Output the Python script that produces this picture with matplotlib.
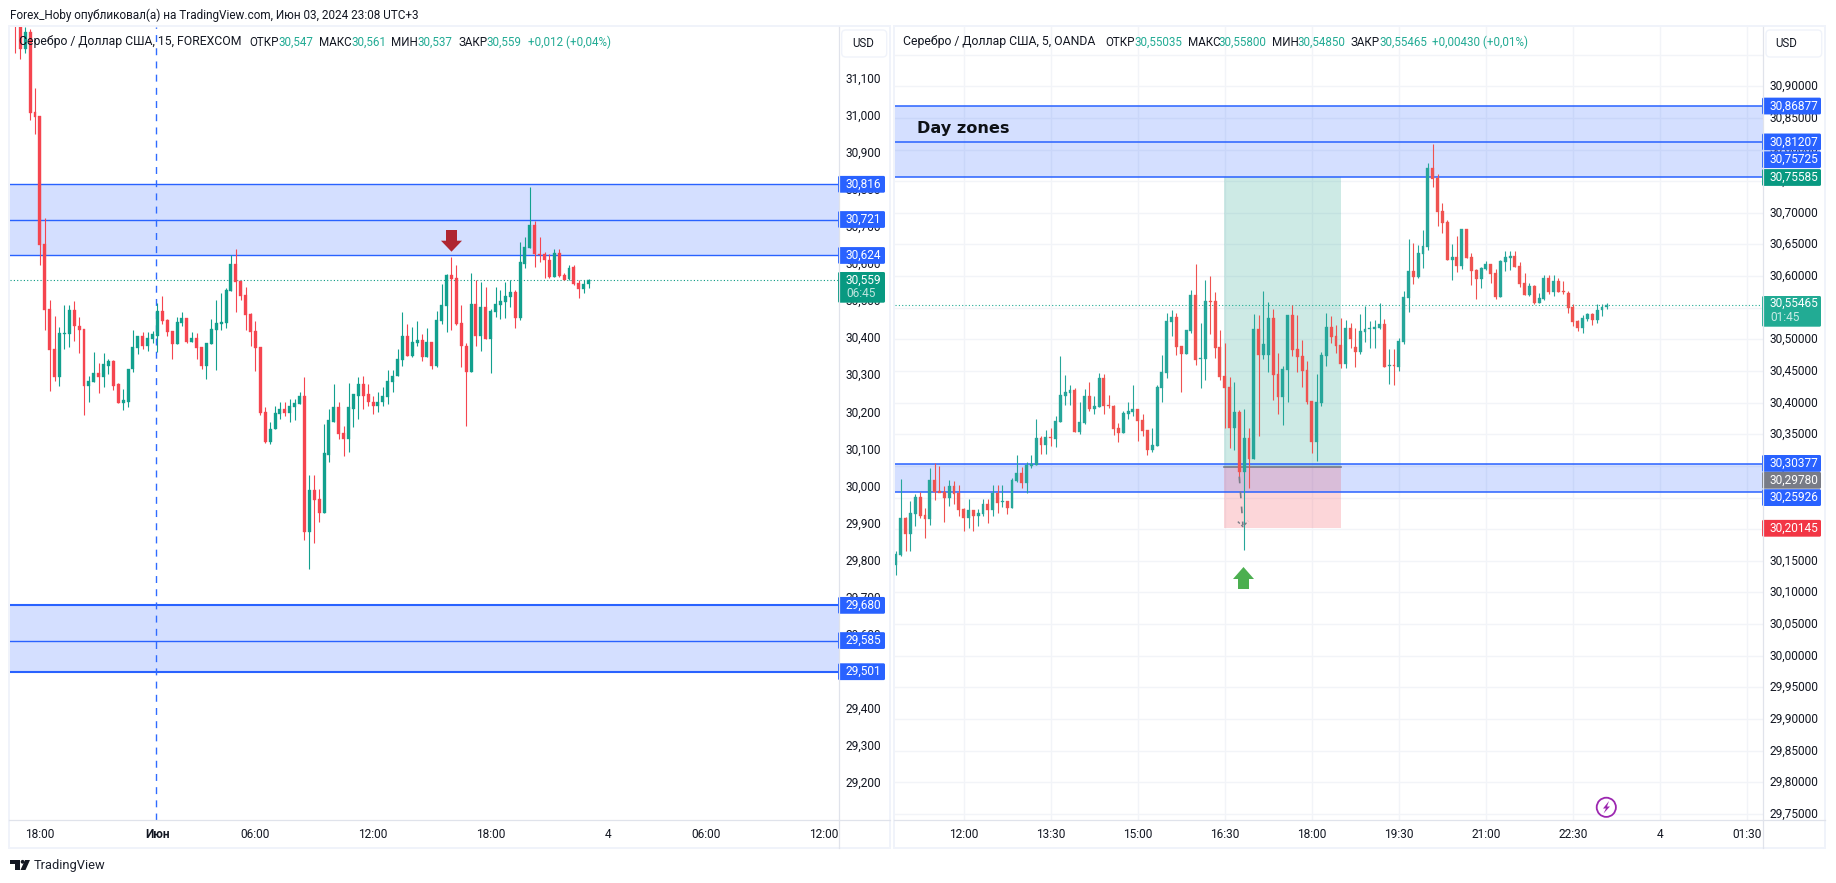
"""Два графика серебра TradingView рядом: 15m FOREXCOM и 5m OANDA с зонами."""
import matplotlib
matplotlib.use("Agg")
import matplotlib.pyplot as plt
from matplotlib.patches import Rectangle, FancyBboxPatch, Polygon, Circle
from matplotlib.transforms import ScaledTranslation

plt.rcParams["font.family"] = ["Roboto", "DejaVu Sans"]

W, H = 1836, 883

C_TEXT = "#131722"
C_BLUE = "#2962FF"
C_ZONE = (41 / 255, 98 / 255, 1.0, 0.2)
C_BORDER = "#F0F3FA"
C_SEP = "#E0E3EB"
C_GRID = "#F2F4F8"
C_TEAL = "#089981"
C_TEAL2 = "#22AB94"

# ─── LEFT: 15m FOREXCOM ───────────────────────────────────────
left_open = [
    31.32, 31.30, 31.18, 31.228, 31.012, 31.0, 30.654, 30.479, 30.371, 30.295,
    30.411, 30.411, 30.476, 30.435, 30.425, 30.271, 30.282, 30.306, 30.295, 30.327,
    30.338, 30.276, 30.225, 30.230, 30.317, 30.373, 30.406, 30.381, 30.398, 30.408,
    30.473, 30.449, 30.419, 30.384, 30.441, 30.454, 30.390, 30.400, 30.376, 30.325,
    30.384, 30.422, 30.438, 30.441, 30.527, 30.600, 30.555, 30.516, 30.465, 30.419,
    30.376, 30.201, 30.120, 30.155, 30.195, 30.209, 30.198, 30.214, 30.222, 30.246,
    29.879, 29.990, 29.966, 29.928, 30.087, 30.176, 30.214, 30.144, 30.128, 30.211,
    30.246, 30.276, 30.249, 30.230, 30.217, 30.228, 30.241, 30.282, 30.298, 30.341,
    30.408, 30.352, 30.387, 30.395, 30.349, 30.390, 30.325, 30.446, 30.487, 30.571,
    30.562, 30.441, 30.381, 30.309, 30.492, 30.406, 30.484, 30.398, 30.471, 30.490,
    30.498, 30.511, 30.525, 30.454, 30.602, 30.643, 30.706, 30.629, 30.627, 30.613,
    30.566, 30.632, 30.571, 30.561, 30.593, 30.549, 30.533, 30.547,
]
left_high = [
    31.33, 31.32, 31.241, 31.235, 31.077, 31.0, 30.724, 30.503, 30.460, 30.430,
    30.490, 30.490, 30.500, 30.457, 30.425, 30.298, 30.363, 30.333, 30.360, 30.346,
    30.341, 30.279, 30.265, 30.319, 30.422, 30.408, 30.417, 30.417, 30.419, 30.495,
    30.514, 30.452, 30.419, 30.457, 30.471, 30.454, 30.417, 30.414, 30.376, 30.387,
    30.452, 30.503, 30.522, 30.535, 30.624, 30.641, 30.555, 30.538, 30.468, 30.446,
    30.376, 30.214, 30.174, 30.217, 30.228, 30.230, 30.236, 30.238, 30.255, 30.295,
    30.031, 30.031, 29.995, 30.168, 30.209, 30.276, 30.228, 30.165, 30.279, 30.249,
    30.295, 30.298, 30.276, 30.244, 30.255, 30.268, 30.314, 30.314, 30.371, 30.471,
    30.438, 30.430, 30.446, 30.411, 30.427, 30.390, 30.473, 30.546, 30.575, 30.619,
    30.598, 30.490, 30.387, 30.577, 30.557, 30.553, 30.538, 30.479, 30.538, 30.530,
    30.552, 30.559, 30.530, 30.660, 30.673, 30.809, 30.716, 30.673, 30.634, 30.627,
    30.641, 30.641, 30.577, 30.599, 30.597, 30.557, 30.557, 30.561,
]
left_low = [
    31.169, 31.153, 31.169, 30.989, 30.951, 30.598, 30.422, 30.257, 30.284, 30.273,
    30.371, 30.376, 30.392, 30.360, 30.193, 30.230, 30.282, 30.252, 30.268, 30.303,
    30.260, 30.225, 30.206, 30.214, 30.309, 30.357, 30.371, 30.365, 30.387, 30.363,
    30.438, 30.408, 30.346, 30.384, 30.433, 30.387, 30.390, 30.346, 30.319, 30.292,
    30.384, 30.314, 30.422, 30.427, 30.527, 30.471, 30.503, 30.422, 30.381, 30.311,
    30.193, 30.117, 30.114, 30.155, 30.184, 30.190, 30.176, 30.179, 30.222, 29.855,
    29.779, 29.847, 29.906, 29.928, 30.066, 30.174, 30.128, 30.082, 30.095, 30.160,
    30.182, 30.211, 30.219, 30.195, 30.203, 30.219, 30.222, 30.255, 30.298, 30.327,
    30.352, 30.349, 30.381, 30.338, 30.349, 30.317, 30.322, 30.438, 30.417, 30.422,
    30.436, 30.322, 30.165, 30.309, 30.381, 30.365, 30.398, 30.306, 30.457, 30.452,
    30.454, 30.484, 30.427, 30.449, 30.589, 30.643, 30.593, 30.606, 30.562, 30.564,
    30.566, 30.566, 30.559, 30.559, 30.544, 30.508, 30.522, 30.537,
]
left_close = [
    31.25, 31.18, 31.228, 31.009, 30.998, 30.652, 30.476, 30.368, 30.295, 30.414,
    30.414, 30.476, 30.433, 30.422, 30.271, 30.284, 30.306, 30.295, 30.330, 30.338,
    30.273, 30.225, 30.233, 30.319, 30.376, 30.406, 30.381, 30.400, 30.411, 30.473,
    30.446, 30.417, 30.384, 30.444, 30.454, 30.390, 30.400, 30.373, 30.325, 30.387,
    30.425, 30.441, 30.444, 30.530, 30.600, 30.553, 30.514, 30.463, 30.417, 30.373,
    30.198, 30.120, 30.157, 30.198, 30.209, 30.198, 30.217, 30.225, 30.246, 29.879,
    29.990, 29.963, 29.928, 30.090, 30.179, 30.214, 30.141, 30.128, 30.214, 30.249,
    30.276, 30.246, 30.228, 30.217, 30.230, 30.244, 30.284, 30.300, 30.344, 30.408,
    30.352, 30.390, 30.395, 30.349, 30.390, 30.325, 30.449, 30.490, 30.571, 30.560,
    30.438, 30.379, 30.309, 30.492, 30.406, 30.484, 30.398, 30.473, 30.492, 30.500,
    30.514, 30.525, 30.454, 30.606, 30.646, 30.706, 30.627, 30.626, 30.611, 30.566,
    30.632, 30.568, 30.559, 30.591, 30.548, 30.533, 30.546, 30.559,
]
left_zones = [(30.624, 30.816), (29.501, 29.680)]
left_levels = [30.816, 30.721, 30.624, 29.680, 29.585, 29.501]
left_last = 30.559
left_yticks = [29.2, 29.3, 29.4, 29.5, 29.6, 29.7, 29.8, 29.9, 30.0, 30.1, 30.2, 30.3,
               30.4, 30.5, 30.6, 30.7, 30.8, 30.9, 31.0, 31.1]
left_xticks = [5, 29, 49, 73, 97, 121, 141, 165]
left_xlabels = ["18:00", "Июн", "06:00", "12:00", "18:00", "4", "06:00", "12:00"]

# ─── RIGHT: 5m OANDA ──────────────────────────────────────────
right_open = [
    30.144, 30.159, 30.218, 30.193, 30.224, 30.251, 30.223, 30.216, 30.278, 30.260,
    30.259, 30.249, 30.268, 30.257, 30.232, 30.218, 30.230, 30.221, 30.224, 30.240,
    30.230, 30.257, 30.243, 30.245, 30.234, 30.276, 30.289, 30.273, 30.300, 30.302,
    30.344, 30.333, 30.346, 30.343, 30.370, 30.411, 30.415, 30.420, 30.354, 30.368,
    30.411, 30.390, 30.393, 30.439, 30.396, 30.395, 30.360, 30.352, 30.382, 30.385,
    30.390, 30.373, 30.357, 30.325, 30.332, 30.423, 30.447, 30.528, 30.536, 30.490,
    30.477, 30.513, 30.570, 30.469, 30.469, 30.561, 30.561, 30.488, 30.442, 30.425,
    30.360, 30.385, 30.291, 30.344, 30.311, 30.517, 30.475, 30.475, 30.534, 30.445,
    30.409, 30.452, 30.539, 30.485, 30.474, 30.452, 30.403, 30.338, 30.400, 30.474,
    30.520, 30.505, 30.491, 30.461, 30.518, 30.488, 30.480, 30.511, 30.516, 30.516,
    30.518, 30.524, 30.458, 30.459, 30.456, 30.496, 30.565, 30.608, 30.598, 30.635,
    30.646, 30.771, 30.755, 30.703, 30.685, 30.625, 30.630, 30.616, 30.674, 30.630,
    30.609, 30.595, 30.611, 30.619, 30.605, 30.567, 30.622, 30.629, 30.632, 30.616,
    30.589, 30.570, 30.584, 30.557, 30.564, 30.597, 30.575, 30.592, 30.576, 30.573,
    30.551, 30.529, 30.518, 30.532, 30.540, 30.530, 30.546, 30.5504,
]
right_high = [
    30.165, 30.279, 30.219, 30.245, 30.256, 30.259, 30.234, 30.297, 30.304, 30.300,
    30.268, 30.278, 30.276, 30.270, 30.234, 30.248, 30.230, 30.232, 30.248, 30.248,
    30.270, 30.270, 30.270, 30.245, 30.281, 30.317, 30.298, 30.306, 30.317, 30.374,
    30.347, 30.357, 30.360, 30.379, 30.474, 30.444, 30.428, 30.423, 30.401, 30.422,
    30.433, 30.411, 30.447, 30.445, 30.412, 30.396, 30.368, 30.387, 30.401, 30.428,
    30.390, 30.382, 30.357, 30.360, 30.428, 30.475, 30.542, 30.547, 30.542, 30.490,
    30.515, 30.578, 30.619, 30.526, 30.594, 30.600, 30.575, 30.515, 30.494, 30.441,
    30.433, 30.388, 30.390, 30.360, 30.540, 30.539, 30.577, 30.559, 30.548, 30.479,
    30.458, 30.539, 30.554, 30.539, 30.499, 30.466, 30.403, 30.445, 30.480, 30.542,
    30.537, 30.523, 30.534, 30.531, 30.526, 30.518, 30.540, 30.553, 30.529, 30.530,
    30.557, 30.532, 30.485, 30.485, 30.502, 30.576, 30.658, 30.652, 30.649, 30.673,
    30.778, 30.809, 30.761, 30.715, 30.689, 30.651, 30.663, 30.674, 30.674, 30.636,
    30.611, 30.614, 30.624, 30.619, 30.611, 30.625, 30.640, 30.640, 30.640, 30.622,
    30.605, 30.589, 30.586, 30.573, 30.602, 30.602, 30.602, 30.597, 30.592, 30.576,
    30.556, 30.530, 30.538, 30.541, 30.541, 30.556, 30.556, 30.558,
]
right_low = [
    30.128, 30.157, 30.165, 30.165, 30.205, 30.218, 30.186, 30.207, 30.246, 30.258,
    30.212, 30.237, 30.240, 30.221, 30.197, 30.202, 30.197, 30.205, 30.221, 30.210,
    30.221, 30.226, 30.235, 30.224, 30.234, 30.274, 30.265, 30.257, 30.297, 30.302,
    30.319, 30.319, 30.332, 30.330, 30.370, 30.396, 30.396, 30.354, 30.351, 30.366,
    30.387, 30.382, 30.393, 30.382, 30.392, 30.349, 30.338, 30.352, 30.374, 30.379,
    30.340, 30.347, 30.317, 30.322, 30.332, 30.401, 30.439, 30.505, 30.475, 30.417,
    30.477, 30.510, 30.460, 30.423, 30.436, 30.509, 30.471, 30.436, 30.360, 30.328,
    30.325, 30.278, 30.167, 30.265, 30.311, 30.347, 30.469, 30.449, 30.404, 30.382,
    30.365, 30.401, 30.474, 30.449, 30.425, 30.398, 30.321, 30.308, 30.395, 30.458,
    30.494, 30.479, 30.455, 30.455, 30.486, 30.457, 30.477, 30.496, 30.486, 30.486,
    30.517, 30.456, 30.429, 30.428, 30.450, 30.493, 30.543, 30.587, 30.597, 30.613,
    30.641, 30.741, 30.679, 30.668, 30.625, 30.594, 30.606, 30.611, 30.628, 30.586,
    30.564, 30.581, 30.609, 30.589, 30.564, 30.567, 30.608, 30.609, 30.614, 30.583,
    30.570, 30.568, 30.556, 30.557, 30.562, 30.572, 30.568, 30.575, 30.572, 30.541,
    30.521, 30.513, 30.510, 30.529, 30.523, 30.526, 30.537, 30.5485,
]
right_close = [
    30.161, 30.218, 30.193, 30.226, 30.251, 30.221, 30.216, 30.278, 30.259, 30.257,
    30.249, 30.268, 30.256, 30.230, 30.218, 30.230, 30.221, 30.226, 30.240, 30.230,
    30.257, 30.241, 30.245, 30.234, 30.278, 30.289, 30.273, 30.302, 30.303, 30.344,
    30.333, 30.346, 30.344, 30.371, 30.412, 30.417, 30.420, 30.354, 30.370, 30.411,
    30.390, 30.395, 30.439, 30.395, 30.395, 30.358, 30.352, 30.384, 30.387, 30.390,
    30.371, 30.355, 30.325, 30.333, 30.425, 30.449, 30.529, 30.536, 30.488, 30.477,
    30.515, 30.570, 30.468, 30.471, 30.561, 30.559, 30.487, 30.441, 30.423, 30.360,
    30.385, 30.291, 30.344, 30.311, 30.517, 30.475, 30.493, 30.534, 30.444, 30.409,
    30.453, 30.539, 30.483, 30.472, 30.450, 30.401, 30.338, 30.401, 30.475, 30.520,
    30.504, 30.490, 30.461, 30.518, 30.500, 30.480, 30.513, 30.516, 30.518, 30.519,
    30.524, 30.456, 30.459, 30.458, 30.497, 30.567, 30.608, 30.598, 30.636, 30.647,
    30.771, 30.753, 30.701, 30.684, 30.625, 30.630, 30.616, 30.674, 30.628, 30.608,
    30.595, 30.613, 30.619, 30.603, 30.567, 30.624, 30.630, 30.632, 30.614, 30.587,
    30.570, 30.584, 30.557, 30.565, 30.597, 30.575, 30.592, 30.575, 30.575, 30.549,
    30.527, 30.518, 30.534, 30.540, 30.530, 30.546, 30.551, 30.5547,
]
right_zones = [(30.75725, 30.86877), (30.25926, 30.30377)]
right_levels = [30.86877, 30.81207, 30.75725, 30.30377, 30.25926]
right_last = 30.55465
pos_entry, pos_target, pos_stop = 30.29780, 30.75585, 30.20145
right_yticks = [29.75, 29.80, 29.85, 29.90, 29.95, 30.00, 30.05, 30.10, 30.15, 30.20, 30.25,
                30.30, 30.35, 30.40, 30.45, 30.50, 30.55, 30.60, 30.65, 30.70, 30.75, 30.80,
                30.85, 30.90]
right_xticks = [14, 32, 50, 68, 86, 104, 122, 140, 158, 176]
right_xlabels = ["12:00", "13:30", "15:00", "16:30", "18:00", "19:30", "21:00", "22:30", "4", "01:30"]

fig = plt.figure(figsize=(W / 100, H / 100), dpi=100, facecolor="white")


def axes_px(x0, y0, x1, y1, **kw):
    return fig.add_axes([x0 / W, 1 - y1 / H, (x1 - x0) / W, (y1 - y0) / H], **kw)


def candles(ax, o, h, l, c, up, down, width=0.6):
    xs = range(len(o))
    cols = [up if cc >= oo else down for oo, cc in zip(o, c)]
    ax.vlines(xs, l, h, colors=cols, lw=0.8, zorder=3)
    ax.bar(xs, [abs(cc - oo) for oo, cc in zip(o, c)], bottom=[min(oo, cc) for oo, cc in zip(o, c)],
           width=width, color=cols, edgecolor=cols, linewidth=0.25, zorder=4)


def setup(ax, xlim, ylim, xticks, xlabels, yticks, ylabels):
    ax.set_xlim(*xlim)
    ax.set_ylim(*ylim)
    for s in ax.spines.values():
        s.set_visible(False)
    ax.yaxis.tick_right()
    ax.set_yticks(yticks, ylabels)
    ax.set_xticks(xticks, xlabels)
    ax.tick_params(axis="y", length=0, pad=5.4, labelsize=8.6, labelcolor=C_TEXT)
    ax.tick_params(axis="x", length=0, pad=5.8, labelsize=8.6, labelcolor=C_TEXT)
    # подписи цен чуть выше линии уровня
    shift = ScaledTranslation(0, 1.3 / 100, fig.dpi_scale_trans)
    for lb in ax.get_yticklabels():
        lb.set_transform(lb.get_transform() + shift)


# ─── LEFT CHART ───────────────────────────────────────────────
ax_l = axes_px(9.5, 27, 838.5, 820)
setup(ax_l, (-1.2, 168.0), (29.1009, 31.2404), left_xticks, left_xlabels,
      left_yticks, [f"{v:.3f}".replace(".", ",") for v in left_yticks])
ax_l.get_xticklabels()[1].set_fontweight("bold")
for lo, hi in left_zones:
    ax_l.axhspan(lo, hi, color=C_ZONE, lw=0, zorder=1)
for v in left_levels:
    thick = v in (29.680, 29.501)
    ax_l.axhline(v, color=C_BLUE, lw=1.5 if thick else 1.0, zorder=2)
ax_l.axvline(28.65, color="#2F6BFF", lw=1.0, ls=(0, (5, 4.5)), zorder=2)
ax_l.axhline(left_last, color=C_TEAL, lw=0.8, ls=(0, (1, 2)), zorder=2)
candles(ax_l, left_open, left_high, left_low, left_close, "#12A08E", "#F5454F")

# ─── RIGHT CHART ──────────────────────────────────────────────
ax_r = axes_px(895, 27, 1762.5, 820)
grid_y = right_yticks + [30.95]
setup(ax_r, (-0.2, 179.2), (29.7404, 30.9937), right_xticks, right_xlabels,
      right_yticks, [f"{v:.5f}".replace(".", ",") for v in right_yticks])
for v in grid_y:
    ax_r.axhline(v, color=C_GRID, lw=1.0, zorder=0)
for v in right_xticks:
    ax_r.axvline(v, color=C_GRID, lw=1.0, zorder=0)
for lo, hi in right_zones:
    ax_r.axhspan(lo, hi, color=C_ZONE, lw=0, zorder=1)
for v in right_levels:
    ax_r.axhline(v, color=C_BLUE, lw=1.1, zorder=2)
ax_r.add_patch(Rectangle((67.9, pos_entry), 24.15, pos_target - pos_entry,
                         fc=(8 / 255, 153 / 255, 129 / 255, 0.2), ec="none", zorder=1.5))
ax_r.add_patch(Rectangle((67.9, pos_stop), 24.15, pos_entry - pos_stop,
                         fc=(242 / 255, 54 / 255, 69 / 255, 0.2), ec="none", zorder=1.5))
ax_r.plot([67.9, 92.05], [pos_entry, pos_entry], color="#787B86", lw=1.2, zorder=2.5)
ax_r.axhline(right_last, color=C_TEAL2, lw=0.8, ls=(0, (1, 2)), zorder=2)
candles(ax_r, right_open, right_high, right_low, right_close, "#26A69A", "#EF5350")
# пунктирная стрелка из entry вниз
ax_r.plot([71.0, 71.75], [30.283, 30.206], color="#787B86", lw=1.2, ls=(0, (4, 5)), zorder=5)
ax_r.plot([70.7, 71.75, 72.8], [30.212, 30.204, 30.213], color="#787B86", lw=1.0, ls=(0, (2, 1.5)), zorder=5)

# ─── OVERLAY (рамки, подписи) ─────────────────────────────────
ov = fig.add_axes([0, 0, 1, 1], facecolor="none", zorder=10)
ov.set_xlim(0, W)
ov.set_ylim(H, 0)
ov.axis("off")


def px_y(ax, v):
    return H - ax.transData.transform((0, v))[1]


def tx(x, y, s, color=C_TEXT, size=8.6, **kw):
    kw.setdefault("ha", "left")
    ov.text(x, y, s, color=color, fontsize=size, va="center", **kw)


def tag(x0, w, y_c, s, color, h=16.8):
    ov.add_patch(FancyBboxPatch((x0, y_c - h / 2), w, h, boxstyle="round,pad=0,rounding_size=1.5",
                                fc=color, ec="none"))
    tx(x0 + 8, y_c, s, color="white")


# рамки панелей
for x0, x1, ax_sep in [(9, 890, 838.5), (894, 1825, 1762.5)]:
    ov.add_patch(Rectangle((x0, 26), x1 - x0, 822, fc="none", ec=C_BORDER, lw=1.4))
    ov.plot([ax_sep, ax_sep], [27, 848], color=C_SEP, lw=0.9)
    ov.plot([x0, x1], [820, 820], color=C_SEP, lw=0.9)

# теги цен левого графика
for v in left_levels:
    tag(838, 47, px_y(ax_l, v), f"{v:.3f}".replace(".", ","), C_BLUE)
ov.add_patch(FancyBboxPatch((838, 272), 47, 30.7, boxstyle="round,pad=0,rounding_size=1.5", fc=C_TEAL, ec="none"))
tx(846, 280, "30,559", color="white")
tx(846, 293.7, "06:45", color="#BFE5DF")

# теги цен правого графика (часть смещена, чтобы не перекрывались)
tag(1762, 59, px_y(ax_r, 30.86877), "30,86877", C_BLUE)
tag(1762, 59, px_y(ax_r, 30.81207), "30,81207", C_BLUE)
tag(1762, 59, 159.7, "30,75725", C_BLUE)
tag(1762, 59, px_y(ax_r, pos_target), "30,75585", C_TEAL)
ov.add_patch(FancyBboxPatch((1762, 296), 59, 30.7, boxstyle="round,pad=0,rounding_size=1.5", fc=C_TEAL2, ec="none"))
tx(1770, 303.7, "30,55465", color="white")
tx(1770, 317.7, "01:45", color="#C8EBE5")
tag(1762, 59, 463.4, "30,30377", C_BLUE)
tag(1762, 59, 497.6, "30,25926", C_BLUE)
tag(1762, 59, 480.3, "30,29780", "#787B86")
tag(1762, 59, px_y(ax_r, pos_stop), "30,20145", "#F23645")

# легенды
LEG_Y = 42
tx(10, 15, "Forex_Hoby опубликовал(а) на TradingView.com, Июн 03, 2024 23:08 UTC+3", size=8.46)
tx(18.6, LEG_Y, "Серебро / Доллар США, 15, FOREXCOM", size=8.85)
for x, s, col in [(249, "ОТКР", C_TEXT),
                  (278, "30,547", C_TEAL2), (319.5, "МАКС", C_TEXT), (351, "30,561", C_TEAL2),
                  (391.5, "МИН", C_TEXT), (417, "30,537", C_TEAL2), (458.7, "ЗАКР", C_TEXT),
                  (486, "30,559", C_TEAL2), (528, "+0,012 (+0,04%)", C_TEAL2)]:
    tx(x, LEG_Y, s, color=col, size=8.4)
tx(902.7, LEG_Y, "Серебро / Доллар США, 5, OANDA", size=8.85)
for x, s, col in [(1105, "ОТКР", C_TEXT),
                  (1134, "30,55035", C_TEAL2), (1187.7, "МАКС", C_TEXT), (1218.3, "30,55800", C_TEAL2),
                  (1272, "МИН", C_TEXT), (1297.3, "30,54850", C_TEAL2), (1350.6, "ЗАКР", C_TEXT),
                  (1379.6, "30,55465", C_TEAL2), (1432.5, "+0,00430 (+0,01%)", C_TEAL2)]:
    tx(x, LEG_Y, s, color=col, size=8.4)

# USD
for x0, x1, xt in [(841.7, 886.7, 852), (1766, 1821.7, 1775)]:
    ov.add_patch(FancyBboxPatch((x0, 30), x1 - x0, 27, boxstyle="round,pad=0,rounding_size=4",
                                fc="white", ec=C_BORDER, lw=1.0))
    tx(xt, 43.3, "USD", size=8.3)

tx(917, 128, "Day zones", size=11.6, family="DejaVu Sans", fontweight="bold", color="#0E1116")

# стрелки-аннотации
ov.add_patch(Polygon([(446, 230), (457, 230), (457, 240.7), (462, 240.7), (451.5, 251.7), (441, 240.7), (446, 240.7)],
                     closed=True, fc="#AF2631", ec="none"))
ov.add_patch(Polygon([(1238, 589), (1249, 589), (1249, 579), (1254, 579), (1243.5, 567), (1233, 579), (1238, 579)],
                     closed=True, fc="#4CAF50", ec="none"))

# молния
ov.add_patch(Circle((1606.3, 807.3), 9.6, fc="white", ec="#9C27B0", lw=1.3))
ov.add_patch(Polygon([(1609, 801), (1603, 808.5), (1606, 808.5), (1603.5, 813.5), (1610, 806.5), (1607, 806.5)],
                     closed=True, fc="#9C27B0", ec="none"))

# логотип
ov.add_patch(Polygon([(10, 860), (20, 860), (20, 870), (15, 870), (15, 863.6), (10, 863.6)], closed=True, fc=C_TEXT, ec="none"))
ov.add_patch(Circle((22.6, 861.8), 1.9, fc=C_TEXT, ec="none"))
ov.add_patch(Polygon([(25, 860), (30, 860), (25.5, 870), (20.5, 870)], closed=True, fc=C_TEXT, ec="none"))
tx(34, 865.7, "TradingView", size=9.3, color="#1E222D")

fig.savefig("out.png", dpi=100, facecolor="white")
plt.close(fig)
